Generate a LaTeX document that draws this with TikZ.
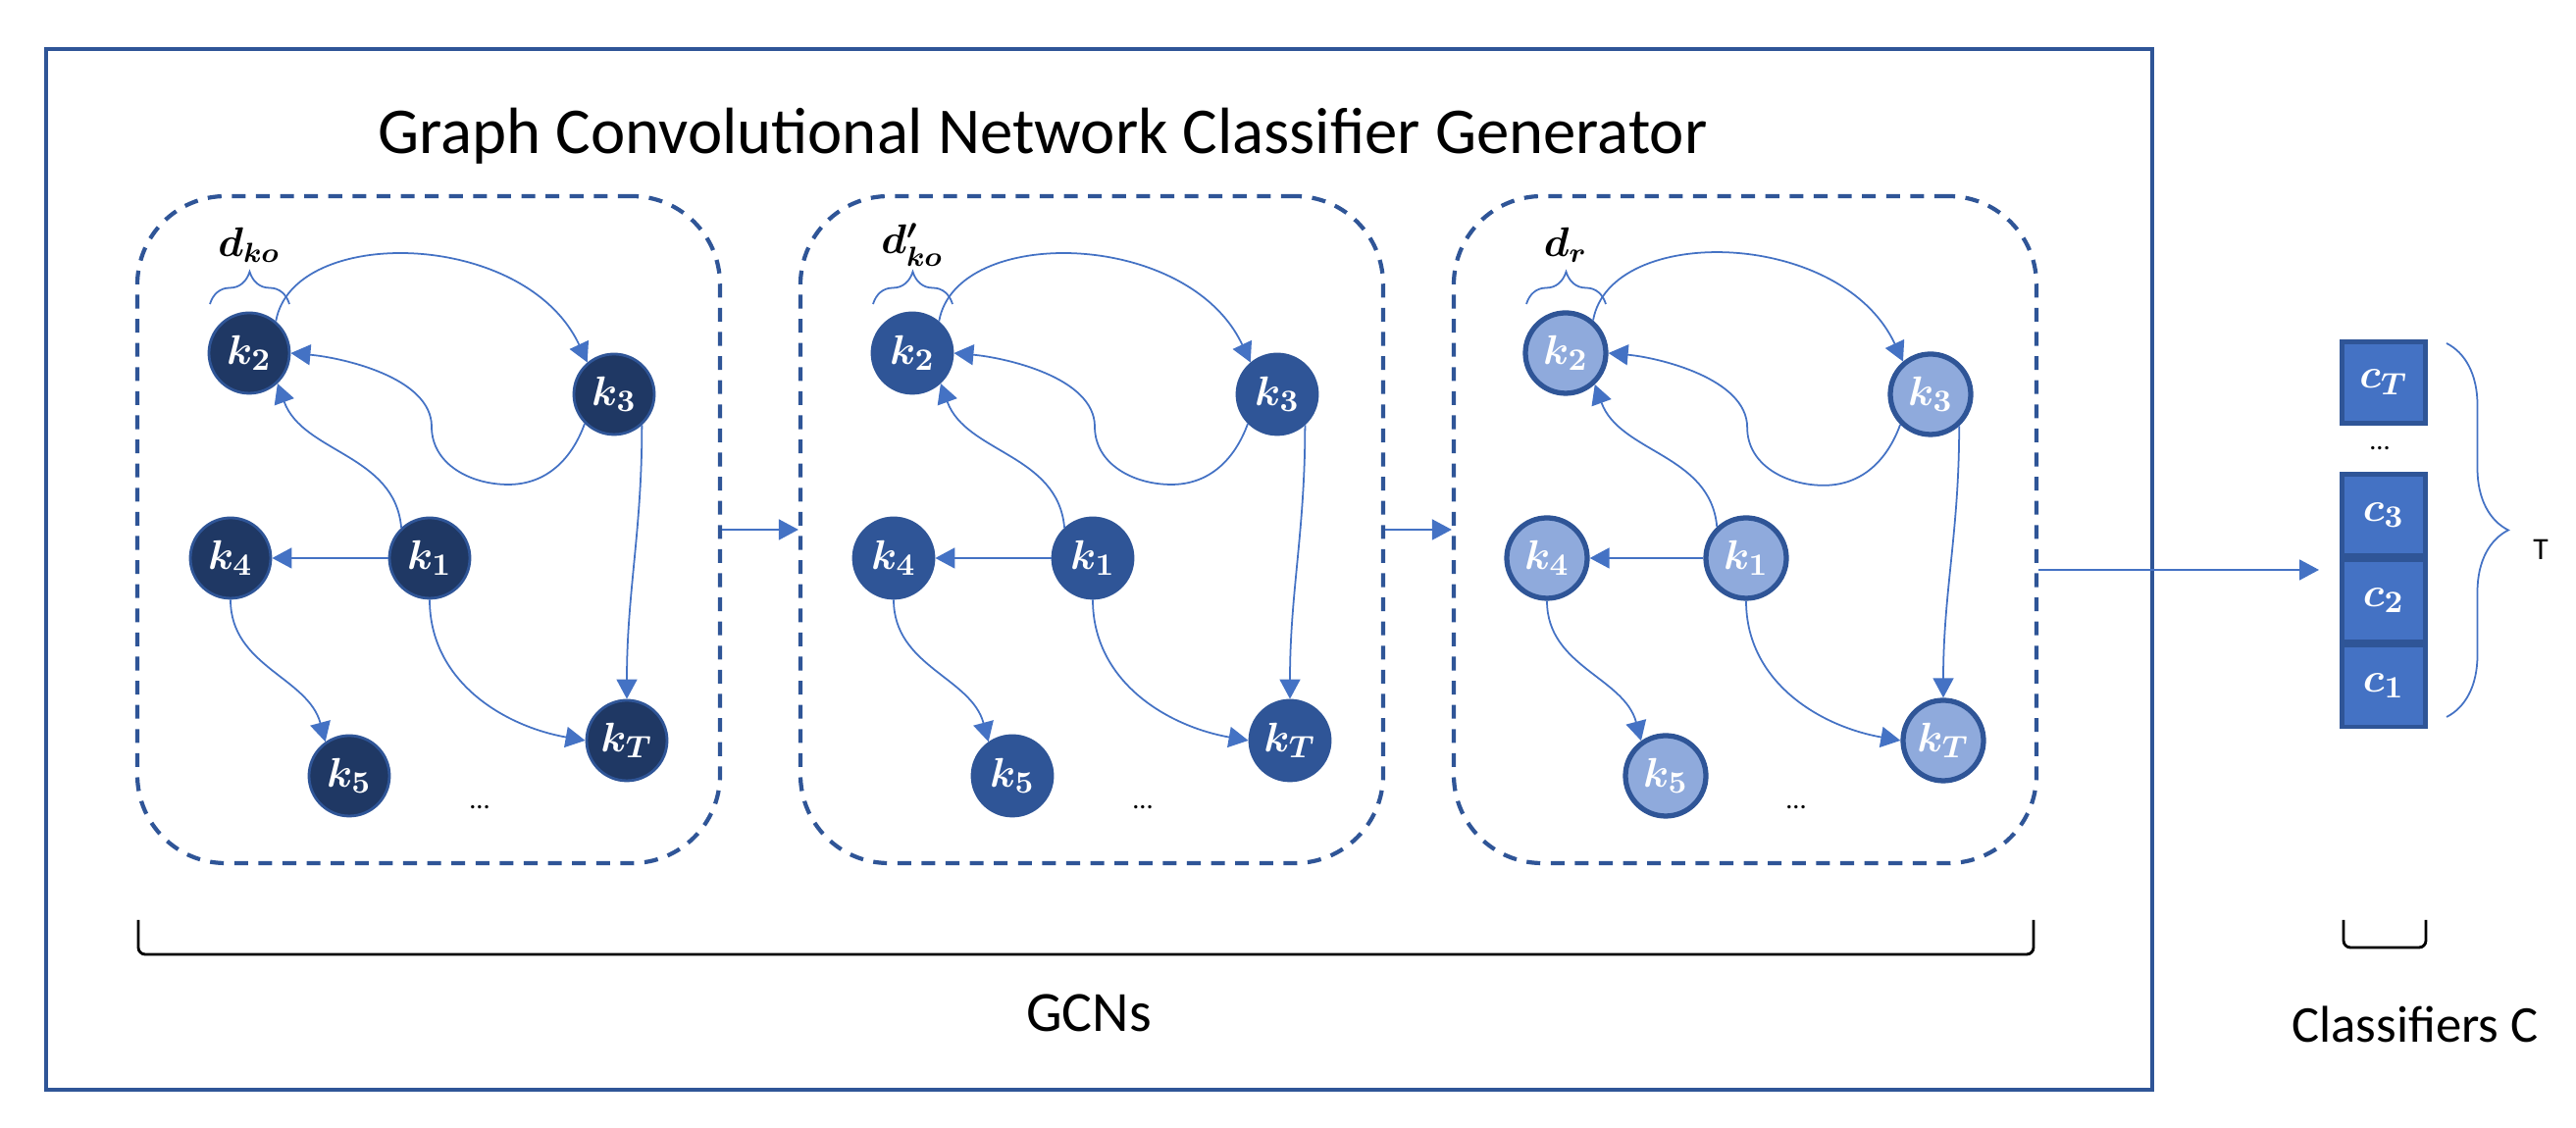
\documentclass[tikz,border=0pt]{standalone}
\usepackage{fontspec}
\setmainfont{Carlito}
\usetikzlibrary{arrows.meta,positioning,decorations.pathreplacing}
\definecolor{edgeblue}{HTML}{4472C4}
\definecolor{navy}{HTML}{1F3864}
\definecolor{midblue}{HTML}{2F5597}
\definecolor{lightblue}{HTML}{8FAADC}

\begin{document}
\begin{tikzpicture}[
  edge/.style={-{Triangle[length=2mm,width=2.1mm]}, line width=0.5pt, edgeblue},
  knode/.style={circle, draw=midblue, minimum size=0.82cm, inner sep=0pt, text=white, font=\boldmath\fontsize{12.5}{14}\selectfont},
  cbox/.style={rectangle, draw=midblue, fill=edgeblue, line width=1.2pt, minimum width=0.85cm, minimum height=0.83cm, inner sep=0pt, text=white, font=\boldmath\fontsize{12.5}{14}\selectfont},
  panel/.style={draw=midblue, line width=1.2pt, dash pattern=on 4pt off 3pt, rounded corners=0.9cm, minimum width=5.94cm, minimum height=6.8cm},
  brc/.style={decorate, edgeblue, line width=0.5pt}
]
  \useasboundingbox (0,0) rectangle (26.26,11.5);

  % outer frame and title
  \draw[midblue, line width=1.2pt] (0.47,0.39) rectangle (21.94,11.00);
  \node[anchor=base, font=\fontsize{19}{23}\selectfont] (title) at (10.63,9.93) {Graph Convolutional Network Classifier Generator};

  % the three graph panels
  \foreach \dx/\fillc/\lw/\lab [count=\i] in {0/navy/0.8pt/{d_{ko}}, 6.76/midblue/0.8pt/{d'_{ko}}, 13.42/lightblue/1.5pt/{d_r}} {
    \begin{scope}[xshift=\dx cm]
      \node[panel] (p\i) at (4.37,6.10) {};

      % nodes
      \node[knode, fill=\fillc, line width=\lw] (k2-\i) at (2.54,7.90) {$k_2$};
      \node[knode, fill=\fillc, line width=\lw] (k3-\i) at (6.26,7.48) {$k_3$};
      \node[knode, fill=\fillc, line width=\lw] (k4-\i) at (2.35,5.81) {$k_4$};
      \node[knode, fill=\fillc, line width=\lw] (k1-\i) at (4.38,5.81) {$k_1$};
      \node[knode, fill=\fillc, line width=\lw] (k5-\i) at (3.56,3.59) {$k_5$};
      \node[knode, fill=\fillc, line width=\lw] (kT-\i) at (6.39,3.95) {$k_T$};
      \node[font=\fontsize{8}{8}\selectfont] (dots-\i) at (4.89,3.27) {...};

      % brace and label over k2
      \draw[brc, decoration={brace, amplitude=3.3mm}] (2.14,8.40) -- (2.95,8.40);
      \node[font=\boldmath\fontsize{11.5}{13}\selectfont] (lab-\i) at (2.54,9.00) {$\lab$};

      % edges
      \draw[edge] (k2-\i.50) .. controls +(80:1) and +(115:1.5) .. (k3-\i.130);
      \draw[edge] (k3-\i.225) to[out=-110,in=0] ++(-0.78,-0.62) to[out=180,in=-90] ++(-0.78,0.59) to[out=90,in=-5,looseness=0.8] (k2-\i.east);
      \draw[edge] (k1-\i.133) to[out=95,in=-70] (k2-\i.313);
      \draw[edge] (k1-\i) -- (k4-\i);
      \draw[edge] (k4-\i.south) to[out=-90,in=105] (k5-\i.125);
      \draw[edge] (k1-\i.south) to[out=-90,in=170] (kT-\i.west);
      \draw[edge] (k3-\i.312) to[out=-90,in=90] (kT-\i.north);
    \end{scope}
  }

  % panel to panel
  \draw[edge] (p1.east) -- (p2.west);
  \draw[edge] (p2.east) -- (p3.west);

  % bracket under the panels
  \draw[line width=0.8pt, rounded corners=2pt] (1.41,2.12) -- (1.41,1.77) -- (20.73,1.77) -- (20.73,2.12);
  \node[anchor=base, font=\fontsize{16.5}{20}\selectfont] (gcns) at (11.10,0.98) {GCNs};

  % classifiers
  \node[cbox] (cT) at (24.30,7.60) {$c_T$};
  \node[cbox] (c3) at (24.30,6.25) {$c_3$};
  \node[cbox, below=0pt of c3] (c2) {$c_2$};
  \node[cbox, below=0pt of c2] (c1) {$c_1$};
  \node[font=\fontsize{8}{8}\selectfont] (cdots) at (24.26,6.93) {...};

  \coordinate (cin) at (23.64,5.69);
  \draw[edge] (p3.east |- cin) -- (cin);

  \draw[brc, decoration={brace, amplitude=6.3mm}] (24.94,8.00) -- (24.94,4.19);
  \node[font=\fontsize{9}{11}\selectfont] (tlab) at (25.90,5.90) {T};

  \draw[line width=0.8pt, rounded corners=2pt] (23.89,2.12) -- (23.89,1.84) -- (24.73,1.84) -- (24.73,2.12);
  \node[anchor=base, font=\fontsize{15}{18}\selectfont] (clab) at (24.62,0.87) {Classifiers C};
\end{tikzpicture}
\end{document}
